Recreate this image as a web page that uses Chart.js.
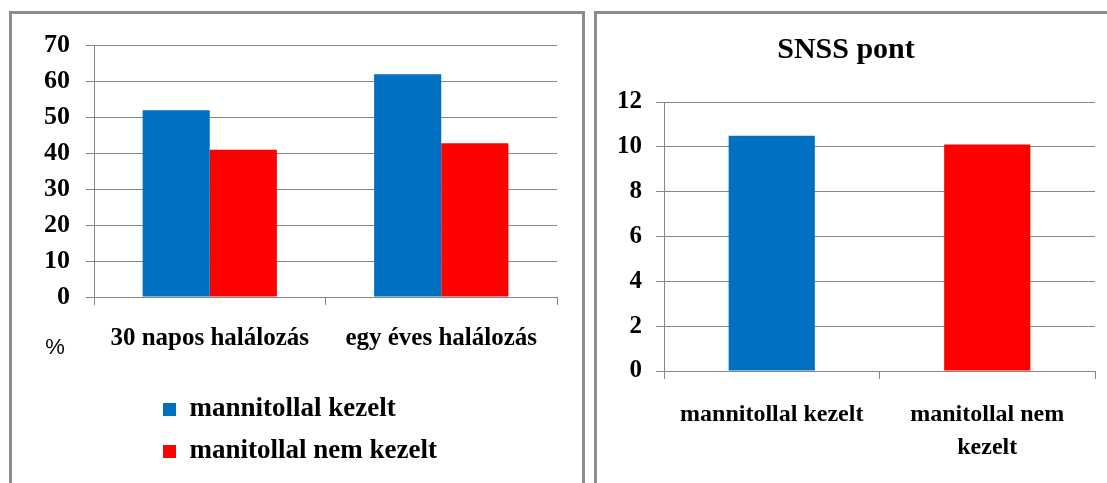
<!DOCTYPE html>
<html>
<head>
<meta charset="utf-8">
<script src="https://cdn.jsdelivr.net/npm/chart.js@4/dist/chart.umd.min.js"></script>
<style>
    body { margin: 0; width: 1107px; height: 483px; overflow: hidden; background: #fff; }
    .panel { position: absolute; top: 11px; height: 480px; border: 3px solid #8c8c8c; background: #fff; }
    #leftPanel { left: 9px; width: 570px; }
    #rightPanel { left: 594px; width: 520px; }
    .box { position: relative; height: 469px; }
</style>
</head>
<body>
<div class="panel" id="leftPanel"><div class="box" style="width:570px"><canvas id="mortalityChart"></canvas></div></div>
<div class="panel" id="rightPanel"><div class="box" style="width:510px"><canvas id="snssChart"></canvas></div></div>
<script>
// mortality (%) per group
const mortalityLabels = ["30 napos halálozás", "egy éves halálozás"];
const seriesNames = ["mannitollal kezelt", "manitollal nem kezelt"];
const treatedMortality = [52, 62];
const untreatedMortality = [41, 42.8];
const mortalityTicks = [0, 10, 20, 30, 40, 50, 60, 70];

// SNSS score per group
const snssLabels = ["mannitollal kezelt", ["manitollal nem", "kezelt"]];
const snssValues = [10.5, 10.1];
const snssTicks = [0, 2, 4, 6, 8, 10, 12];

const BLUE = "#0070C0";
const RED = "#FF0000";
const GRID = "#868686";

Chart.defaults.font.family = "'Liberation Serif', 'Times New Roman', serif";
Chart.defaults.color = "#000";
Chart.defaults.animation = false;

function useTicks(list) {
    return axis => { axis.ticks = list.map(v => ({value: v})); };
}

// legend sits under the labels, indented, one item per row
const legendOffset = {
    id: "legendOffset",
    afterLayout(chart) {
        chart.legend.left = 136;
        chart.legend.right = 436;
    }
};

// the "%" note left of the category labels
const percentNote = {
    id: "percentNote",
    afterDraw(chart) {
        const ctx = chart.ctx;
        ctx.save();
        ctx.font = "22px 'Liberation Sans', Arial, sans-serif";
        ctx.fillStyle = "#000";
        ctx.textAlign = "center";
        ctx.textBaseline = "middle";
        ctx.fillText("%", chart.chartArea.left - 39, chart.chartArea.bottom + 51);
        ctx.restore();
    }
};

function drawMortality() {
    const ctx = document.getElementById("mortalityChart");
    new Chart(ctx, {
        type: "bar",
        data: {
            labels: mortalityLabels,
            datasets: [
                {label: seriesNames[0], data: treatedMortality, backgroundColor: BLUE, borderWidth: 0},
                {label: seriesNames[1], data: untreatedMortality, backgroundColor: RED, borderWidth: 0}
            ]
        },
        options: {
            responsive: true,
            maintainAspectRatio: false,
            categoryPercentage: 0.58,
            barPercentage: 1.0,
            layout: {padding: {top: 28, right: 25, bottom: 8, left: 0}},
            scales: {
                x: {
                    grid: {drawOnChartArea: false, color: GRID, tickLength: 8},
                    border: {color: GRID},
                    ticks: {
                        autoSkip: false, maxRotation: 0, padding: 19,
                        font: {size: 25, weight: "bold"}
                    },
                    afterFit: scale => { scale.height = 84; }
                },
                y: {
                    min: 0, max: 70,
                    afterBuildTicks: useTicks(mortalityTicks),
                    grid: {color: GRID, tickLength: 8},
                    border: {color: GRID},
                    ticks: {padding: 16, font: {size: 26, weight: "bold"}},
                    afterFit: scale => { scale.width = 82; }
                }
            },
            plugins: {
                legend: {
                    position: "bottom",
                    align: "start",
                    fullSize: false,
                    labels: {
                        boxWidth: 13, boxHeight: 13, padding: 15,
                        font: {size: 27, weight: "bold"}
                    }
                },
                tooltip: {enabled: false}
            }
        },
        plugins: [legendOffset, percentNote]
    });
}

function drawSnss() {
    const ctx = document.getElementById("snssChart");
    new Chart(ctx, {
        type: "bar",
        data: {
            labels: snssLabels,
            datasets: [{
                data: snssValues,
                backgroundColor: [BLUE, RED],
                borderWidth: 0
            }]
        },
        options: {
            responsive: true,
            maintainAspectRatio: false,
            categoryPercentage: 1.0,
            barPercentage: 0.4,
            layout: {padding: {top: 0, right: 12, bottom: 0, left: 0}},
            scales: {
                x: {
                    grid: {drawOnChartArea: false, color: GRID, tickLength: 8},
                    border: {color: GRID},
                    ticks: {
                        autoSkip: false, maxRotation: 0, padding: 20,
                        font: {size: 24, weight: "bold", lineHeight: 1.35}
                    },
                    afterFit: scale => { scale.height = 112; }
                },
                y: {
                    min: 0, max: 12,
                    afterBuildTicks: useTicks(snssTicks),
                    grid: {color: GRID, tickLength: 8},
                    border: {color: GRID},
                    ticks: {padding: 14, font: {size: 25, weight: "bold"}},
                    afterFit: scale => { scale.width = 67; }
                }
            },
            plugins: {
                legend: {display: false},
                title: {
                    display: true,
                    text: "SNSS pont",
                    color: "#000",
                    font: {size: 30, weight: "bold"},
                    padding: {top: 18, bottom: 34}
                },
                tooltip: {enabled: false}
            }
        }
    });
}

drawMortality();
drawSnss();
</script>
</body>
</html>
